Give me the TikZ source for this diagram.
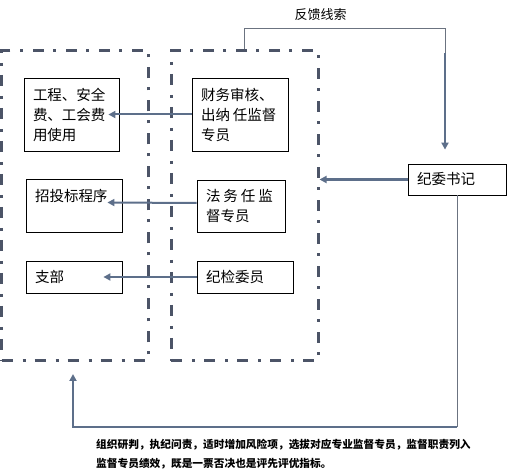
\documentclass[tikz,border=0pt]{standalone}
\usepackage{fontspec}
\setmainfont{Noto Sans CJK SC}
\usetikzlibrary{arrows.meta,calc}
\definecolor{dashc}{HTML}{4C5467}
\definecolor{arrc}{HTML}{5D6F8A}
\definecolor{thinc}{HTML}{6B7380}
\tikzset{
  dashbox/.style={draw=dashc, line width=3pt, dash pattern=on 11pt off 10pt on 3pt off 9pt, rectangle, inner sep=0pt},
  boxn/.style={draw=black, line width=0.8pt, rectangle, align=left, inner xsep=9pt, inner ysep=0pt,
               font=\fontsize{14.5}{20}\selectfont},
  arr/.style={draw=arrc, line width=2pt, -{Triangle[length=7pt,width=7pt]}},
  thinline/.style={draw=thinc, line width=1pt},
}
\begin{document}
\begin{tikzpicture}[x=1pt,y=-1pt]
\useasboundingbox (0,0) rectangle (507,476);
% dash-dot group boxes
\node[dashbox, minimum width=146.5pt, minimum height=310pt] (L) at (74.75,206) {};
\node[dashbox, minimum width=147pt, minimum height=310pt] (M) at (244.5,206) {};
% inner boxes
\node[boxn, text width=77pt, minimum height=73pt] (b1) at (71.5,114.5) {工程、安全\\费、工会费\\用使用};
\node[boxn, text width=78pt, minimum height=73pt] (b2) at (240,114.5) {财务审核、\\出纳\hspace{3pt}任监督\\专员};
\node[boxn, text width=78pt, minimum height=53pt] (b3) at (74,205.5) {招投标程序\\\mbox{}};
\node[boxn, text width=70pt, minimum height=52pt] (b4) at (241,206) {\makebox[67pt][s]{法\hfil 务\hfil 任\hfil 监}\\督专员};
\node[boxn, text width=78pt, minimum height=32pt] (b5) at (74,277) {支部};
\node[boxn, text width=78pt, minimum height=32pt] (b6) at (245,277) {纪检委员};
\node[boxn, text width=80pt, minimum height=31pt] (J) at (457,179.5) {纪委书记};
% arrows mid -> left
\draw[arr] (b2.west) -- ([xshift=-11pt]b1.east);
\draw[arr] ([yshift=3pt]b4.west) -- ([xshift=-15pt,yshift=3pt]b3.east);
\draw[arr] (b6.west) -- ([xshift=-19pt]b5.east);
% J -> middle group
\draw[arr, line width=2.4pt] (J.west) -- (J.west -| M.east);
% feedback loop
\coordinate (fbtop) at ($(M.north)+(0,-21)$);
\coordinate (fbtip) at ($(J.north)+(-12,-14)$);
\coordinate (fbcorner) at (fbtop -| fbtip);
\coordinate (fbmid) at ($(fbcorner)+(0,25)$);
\draw[thinline] (M.north) -- (fbtop) -- (fbcorner) -- (fbmid);
\draw[arr] (fbmid) -- (fbtip);
\node[font=\fontsize{13}{15}\selectfont, inner sep=0pt] (fblabel) at (320.5,15) {反馈线索};
% bottom loop
\coordinate (lp1) at (J.south |- 0,427);
\coordinate (lp2) at (73,427);
\coordinate (lp3) at (73,374);
\draw[thinline] (J.south) -- (lp1);
\draw[arr, line width=1.8pt] (lp1) -- (lp2) -- (lp3);
\node[anchor=west, align=left, inner sep=0pt, font=\bfseries\fontsize{10.7}{19}\selectfont] (note) at (96,454.5)
  {组织研判，执纪问责，适时增加风险项，选拔对应专业监督专员，监督职责列入\\监督专员绩效，既是一票否决也是评先评优指标。};
\end{tikzpicture}
\end{document}
